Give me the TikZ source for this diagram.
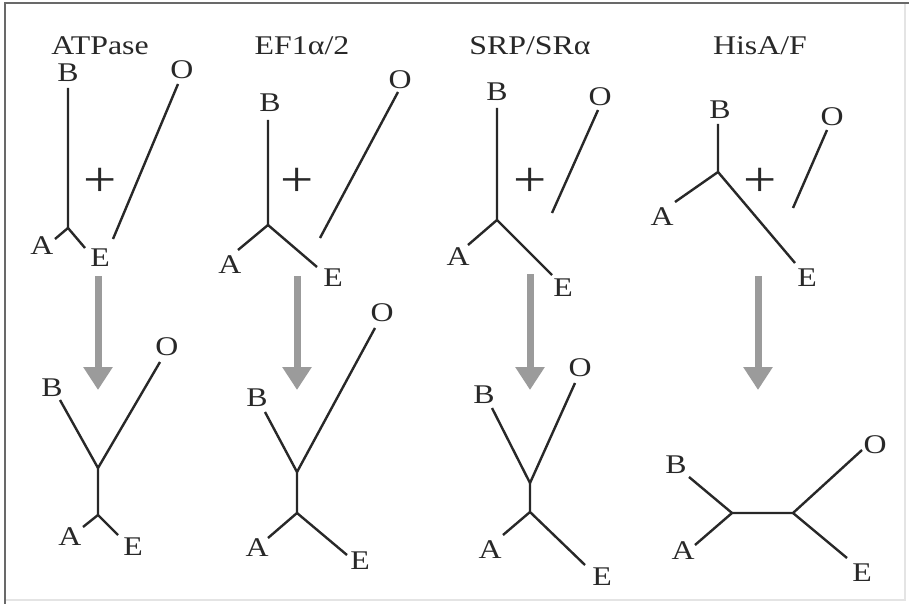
\documentclass[tikz,border=0pt]{standalone}
\usepackage{fontspec}
\setmainfont[FakeStretch=1.18]{Liberation Serif}
\usetikzlibrary{arrows.meta}
\definecolor{ink}{RGB}{40,40,40}
\definecolor{arr}{RGB}{155,155,155}
\definecolor{framec}{RGB}{105,105,105}
\definecolor{faint}{RGB}{228,228,228}
\tikzset{
  lbl/.style={font=\fontsize{27}{31}\selectfont, text=ink, inner sep=0pt},
  ttl/.style={lbl, anchor=base},
  plussign/.style={font=\fontsize{50}{56}\selectfont, text=ink, inner sep=0pt},
  branch/.style={draw=ink, line width=2.4pt},
  bigarrow/.style={draw=arr, line width=7pt, -{Triangle[width=28pt,length=23pt]}},
}
\begin{document}
\begin{tikzpicture}[x=1pt,y=-1pt]
\useasboundingbox (0,0) rectangle (909,604);
\fill[white] (0,0) rectangle (909,604);
% frame
\draw[faint, line width=1.5pt] (905,3) -- (905,600) -- (5,600);
\draw[framec, line width=2.5pt] (909,3) -- (5,3) -- (5,604);

% ================= Column 1: ATPase =================
\node[ttl] (t1) at (100,55) {ATPase};
% top tree
\node[lbl] (B1) at (68,73) {B};
\node[lbl] (A1) at (42,246) {A};
\node[lbl] (E1) at (100,258) {E};
\node[lbl] (O1) at (182,70) {O};
\node[plussign] (p1) at (100,182) {+};
\coordinate (b1) at (68,88);
\coordinate (j1) at (68,228);
\coordinate (a1) at (55,239);
\coordinate (e1) at (85,248);
\coordinate (o1t) at (178,84);
\coordinate (o1b) at (113,239);
\draw[branch] (b1) -- (j1) -- (a1);
\draw[branch] (j1) -- (e1);
\draw[branch] (o1t) -- (o1b);
% arrow
\coordinate (r1s) at (98,276);
\coordinate (r1e) at (98,390);
\draw[bigarrow] (r1s) -- (r1e);
% bottom tree
\node[lbl] (B1b) at (52,388) {B};
\node[lbl] (O1b) at (167,347) {O};
\node[lbl] (A1b) at (70,537) {A};
\node[lbl] (E1b) at (133,547) {E};
\coordinate (bb1) at (60,400);
\coordinate (k1) at (98,468);
\coordinate (ob1) at (160,362);
\coordinate (m1) at (98,515);
\coordinate (ab1) at (83,527);
\coordinate (eb1) at (118,535);
\draw[branch] (bb1) -- (k1) -- (ob1);
\draw[branch] (k1) -- (m1) -- (ab1);
\draw[branch] (m1) -- (eb1);

% ================= Column 2: EF1a/2 =================
\node[ttl] (t2) at (302,55) {EF1α/2};
\node[lbl] (B2) at (270,103) {B};
\node[lbl] (A2) at (230,265) {A};
\node[lbl] (E2) at (333,278) {E};
\node[lbl] (O2) at (400,80) {O};
\node[plussign] (p2) at (297,182) {+};
\coordinate (b2) at (268,120);
\coordinate (j2) at (268,225);
\coordinate (a2) at (238,250);
\coordinate (e2) at (317,267);
\coordinate (o2t) at (398,92);
\coordinate (o2b) at (320,238);
\draw[branch] (b2) -- (j2) -- (a2);
\draw[branch] (j2) -- (e2);
\draw[branch] (o2t) -- (o2b);
\coordinate (r2s) at (297,276);
\coordinate (r2e) at (297,390);
\draw[bigarrow] (r2s) -- (r2e);
\node[lbl] (B2b) at (257,398) {B};
\node[lbl] (O2b) at (382,313) {O};
\node[lbl] (A2b) at (257,548) {A};
\node[lbl] (E2b) at (360,561) {E};
\coordinate (bb2) at (265,412);
\coordinate (k2) at (297,472);
\coordinate (ob2) at (375,328);
\coordinate (m2) at (297,513);
\coordinate (ab2) at (268,538);
\coordinate (eb2) at (347,555);
\draw[branch] (bb2) -- (k2) -- (ob2);
\draw[branch] (k2) -- (m2) -- (ab2);
\draw[branch] (m2) -- (eb2);

% ================= Column 3: SRP/SRa =================
\node[ttl] (t3) at (530,55) {SRP/SRα};
\node[lbl] (B3) at (497,92) {B};
\node[lbl] (A3) at (458,257) {A};
\node[lbl] (E3) at (563,288) {E};
\node[lbl] (O3) at (600,97) {O};
\node[plussign] (p3) at (530,182) {+};
\coordinate (b3) at (497,108);
\coordinate (j3) at (497,220);
\coordinate (a3) at (468,245);
\coordinate (e3) at (552,275);
\coordinate (o3t) at (598,110);
\coordinate (o3b) at (552,213);
\draw[branch] (b3) -- (j3) -- (a3);
\draw[branch] (j3) -- (e3);
\draw[branch] (o3t) -- (o3b);
\coordinate (r3s) at (530,274);
\coordinate (r3e) at (530,390);
\draw[bigarrow] (r3s) -- (r3e);
\node[lbl] (B3b) at (484,395) {B};
\node[lbl] (O3b) at (580,368) {O};
\node[lbl] (A3b) at (490,550) {A};
\node[lbl] (E3b) at (602,577) {E};
\coordinate (bb3) at (492,408);
\coordinate (k3) at (530,483);
\coordinate (ob3) at (575,383);
\coordinate (m3) at (530,512);
\coordinate (ab3) at (503,535);
\coordinate (eb3) at (585,565);
\draw[branch] (bb3) -- (k3) -- (ob3);
\draw[branch] (k3) -- (m3) -- (ab3);
\draw[branch] (m3) -- (eb3);

% ================= Column 4: HisA/F =================
\node[ttl] (t4) at (760,55) {HisA/F};
\node[lbl] (B4) at (720,110) {B};
\node[lbl] (A4) at (662,217) {A};
\node[lbl] (E4) at (807,278) {E};
\node[lbl] (O4) at (832,117) {O};
\node[plussign] (p4) at (760,182) {+};
\coordinate (b4) at (718,124);
\coordinate (j4) at (718,172);
\coordinate (a4) at (675,202);
\coordinate (e4) at (795,263);
\coordinate (o4t) at (827,130);
\coordinate (o4b) at (793,208);
\draw[branch] (b4) -- (j4) -- (a4);
\draw[branch] (j4) -- (e4);
\draw[branch] (o4t) -- (o4b);
\coordinate (r4s) at (758,276);
\coordinate (r4e) at (758,390);
\draw[bigarrow] (r4s) -- (r4e);
\node[lbl] (B4b) at (676,465) {B};
\node[lbl] (O4b) at (875,445) {O};
\node[lbl] (A4b) at (683,551) {A};
\node[lbl] (E4b) at (862,573) {E};
\coordinate (bb4) at (689,477);
\coordinate (kl4) at (732,513);
\coordinate (kr4) at (793,513);
\coordinate (ab4) at (695,545);
\coordinate (ob4) at (862,450);
\coordinate (eb4) at (847,558);
\draw[branch] (bb4) -- (kl4) -- (ab4);
\draw[branch] (kl4) -- (kr4) -- (ob4);
\draw[branch] (kr4) -- (eb4);
\end{tikzpicture}
\end{document}
